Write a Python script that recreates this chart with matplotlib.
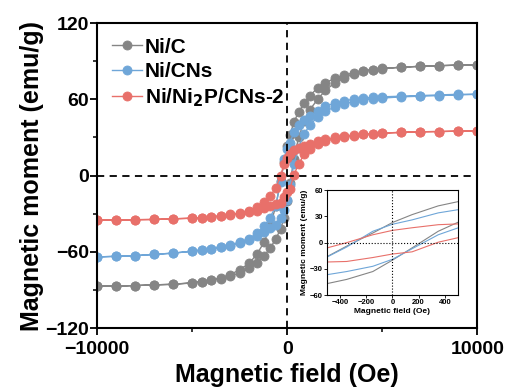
import numpy as np
import matplotlib
matplotlib.use("Agg")
import matplotlib.pyplot as plt
from matplotlib.ticker import MultipleLocator

plt.rcParams['font.family'] = ['Liberation Sans', 'DejaVu Sans']
plt.rcParams['font.weight'] = 'bold'

# campo magnetico (Oe), do +10000 ao -10000
H = [10000, 9000, 8000, 7000, 6000, 5000, 4500, 4000, 3500, 3000, 2500, 2000,
     1600, 1200, 900, 600, 350, 150, 0, -150, -350, -600, -900, -1200, -1600,
     -2000, -2500, -3000, -3500, -4000, -4500, -5000, -6000, -7000, -8000,
     -9000, -10000]

# ramo descendente (M em emu/g, na ordem de H)
niC_down = [87, 87, 86.5, 86, 85.3, 84.3, 83.5, 82.5, 81, 79, 76.5, 73,
            69, 63, 57, 50, 42, 32, 23, 11, -4, -24, -40, -52, -62,
            -69, -74, -78, -80.5, -82, -83.5, -84.5, -85.5, -86, -86.5,
            -87, -87]
niCNs_down = [64, 64, 63.5, 63, 62.5, 62, 61.5, 61, 60, 59, 57, 54.5,
              51, 47, 44, 40, 34, 26, 21, 13, -5, -24, -33, -40, -45.5,
              -49.5, -52.5, -54.5, -56, -57.5, -58.5, -59.5, -61, -62, -63,
              -63.5, -64]
niP_down = [35, 35, 34.7, 34.5, 34, 33.5, 33, 32.5, 32, 31, 30, 28.5,
            27, 25, 23.5, 22, 20.5, 17, 14, 9, 0, -10, -16, -21, -25,
            -27.5, -29.5, -30.5, -31.5, -32.5, -33, -33.5, -34, -34.5, -34.7,
            -35, -35]

# ramo ascendente (M em emu/g, tambem na ordem de H)
niC_up = [87, 87, 86.5, 86, 85.3, 84.2, 83.3, 82, 80, 77, 73, 67,
          60, 52, 43, 30, 13, -6, -20, -33, -42, -50, -57, -63, -69,
          -73, -76.5, -79, -81, -82.5, -83.5, -84.3, -85.5, -86, -86.5,
          -87, -87]
niCNs_up = [64, 63.5, 63, 62.5, 62, 61, 60.5, 59.5, 58, 56.5, 54, 50.5,
            46, 40, 33, 22, 9, -7, -19, -27, -33, -39, -41.5, -44, -47.5,
            -50.5, -53, -55, -56.5, -57.5, -58.5, -59.5, -61, -62, -63,
            -63.5, -64]
niP_up = [35, 35, 34.7, 34.5, 34, 33.5, 33, 32.5, 31.5, 30.5, 29, 27,
          24.5, 21, 17, 9, 0.5, -10.5, -13, -17, -21.5, -22.5, -24, -25.5, -27.5,
          -29, -30, -31, -32, -32.5, -33, -33.5, -34, -34.5, -34.7,
          -35, -35]

labels = ['Ni/C', 'Ni/CNs', r'Ni/Ni$_\mathbf{2}$P/CNs-2']
colors = ['#858585', '#6fa6d8', '#e8706a']
downs = [niC_down, niCNs_down, niP_down]
ups = [niC_up, niCNs_up, niP_up]

fig = plt.figure(figsize=(5.11, 3.92), dpi=100)
ax = fig.add_axes([0.190, 0.163, 0.744, 0.778])

for lab, c, d, u in zip(labels, colors, downs, ups):
    x = np.concatenate([H, H[::-1]])
    y = np.concatenate([d, u[::-1]])
    ax.plot(x, y, '-o', color=c, lw=1, ms=6.5, mfc=c, mec=c,
            markeredgewidth=0.6, label=lab)

ax.axhline(0, color='k', ls='--', lw=1.3, dashes=(4, 3))
ax.axvline(0, color='k', ls='--', lw=1.3, dashes=(4, 3))

ax.set_xlim(-10000, 10000)
ax.set_ylim(-120, 120)
ax.set_xticks([-10000, 0, 10000])
ax.set_yticks([-120, -60, 0, 60, 120])
ax.xaxis.set_minor_locator(MultipleLocator(5000))
ax.yaxis.set_minor_locator(MultipleLocator(30))
ax.tick_params(which='major', direction='out', length=5, width=1.3, labelsize=14, pad=1)
ax.tick_params(axis='x', which='major', pad=4)
ax.tick_params(which='minor', direction='out', length=3, width=1.1)
for s in ax.spines.values():
    s.set_linewidth(1.5)
ax.set_xlabel('Magnetic field (Oe)', fontsize=18, fontweight='bold', labelpad=4)
ax.set_ylabel('Magnetic moment (emu/g)', fontsize=18, fontweight='bold', labelpad=1)

ax.legend(loc='upper left', frameon=False, fontsize=15, handlelength=1.45,
          handletextpad=0.15, labelspacing=0.25, borderaxespad=0.3,
          bbox_to_anchor=(0.0, 1.0))

# inset com a regiao central do laco
ins = fig.add_axes([0.640, 0.247, 0.256, 0.268])
for c, d, u in zip(colors, downs, ups):
    ins.plot(H, d, '-', color=c, lw=0.8)
    ins.plot(H, u, '-', color=c, lw=0.8)
ins.axhline(0, color='k', ls=':', lw=0.8)
ins.axvline(0, color='k', ls=':', lw=0.8)
ins.set_xlim(-500, 500)
ins.set_ylim(-60, 60)
ins.set_xticks([-400, -200, 0, 200, 400])
ins.set_yticks([-60, -30, 0, 30, 60])
ins.tick_params(direction='out', length=2, width=0.6, labelsize=5.5, pad=1)
for s in ins.spines.values():
    s.set_linewidth(0.8)
ins.set_xlabel('Magnetic field (Oe)', fontsize=6, fontweight='bold', labelpad=1)
ins.set_ylabel('Magnetic moment (emu/g)', fontsize=6, fontweight='bold', labelpad=1)

fig.savefig('out.png', dpi=100)
